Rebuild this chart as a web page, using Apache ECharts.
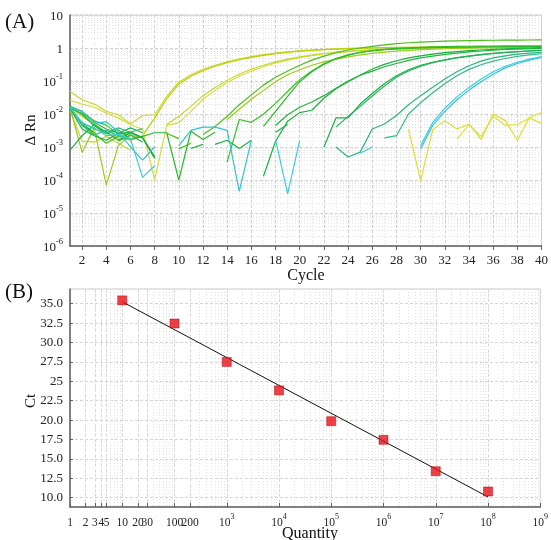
<!DOCTYPE html>
<html>
<head>
<meta charset="utf-8">
<script src="https://cdn.jsdelivr.net/npm/echarts@6/dist/echarts.min.js"></script>
<style>
html,body{margin:0;padding:0;background:#fff;}
#chart{width:551px;height:540px;}
</style>
</head>
<body>
<div id="chart"></div>
<script>
// ---- (A) amplification plot: delta Rn per cycle, two replicates per standard ----
const cycles = [1,2,3,4,5,6,7,8,9,10,11,12,13,14,15,16,17,18,19,20,
                21,22,23,24,25,26,27,28,29,30,31,32,33,34,35,36,37,38,39,40];

const std1e8a = [0.048,0.027,0.02,0.012,0.0095,0.005,0.009,0.0095,0.034,0.092,
  0.155,0.225,0.3,0.38,0.47,0.55,0.63,0.7,0.77,0.82,
  0.87,0.91,0.94,0.97,0.99,1.01,1.03,1.04,1.05,1.06,
  1.07,1.08,1.08,1.09,1.09,1.1,1.1,1.1,1.11,1.11];
const std1e8b = [0.016,0.0085,0.0048,0.0027,0.0019,0.0016,0.0022,0.0075,0.029,0.08,
  0.14,0.205,0.28,0.36,0.44,0.52,0.6,0.67,0.74,0.8,
  0.85,0.89,0.93,0.96,0.98,1.0,1.02,1.03,1.04,1.05,
  1.06,1.06,1.07,1.07,1.08,1.08,1.08,1.09,1.09,1.09];
const std1e7a = [0.026,0.02,0.016,0.0105,0.0075,0.0048,0.0034,0.0001,0.0045,0.0055,
  0.012,0.028,0.052,0.09,0.14,0.2,0.27,0.35,0.43,0.51,
  0.59,0.66,0.72,0.78,0.83,0.87,0.91,0.94,0.97,0.99,
  1.01,1.03,1.04,1.05,1.06,1.07,1.08,1.08,1.09,1.09];
const std1e7b = [0.013,0.0015,0.0014,0.0021,0.0013,0.0008,null,null,0.0048,0.0085,
  0.017,0.036,0.064,0.105,0.16,0.23,0.3,0.38,0.46,0.54,
  0.61,0.68,0.74,0.79,0.84,0.88,0.91,0.94,0.96,0.98,
  1.0,1.01,1.02,1.03,1.04,1.05,1.05,1.06,1.06,1.07];
const std1e6a = [0.016,0.0047,0.0026,0.0013,0.0021,0.0026,null,null,0.0026,0.0018,
  null,0.0024,0.0042,0.0085,0.019,0.038,0.075,0.13,0.2,0.3,
  0.43,0.57,0.72,0.87,1.0,1.12,1.24,1.35,1.44,1.51,
  1.57,1.61,1.65,1.68,1.7,1.72,1.73,1.74,1.75,1.76];
const std1e6b = [0.016,0.00068,0.0038,0.00007,0.0011,0.0023,0.0019,null,null,null,
  null,null,null,0.0068,0.014,0.028,0.052,0.095,0.155,0.22,
  0.3,0.38,0.46,0.54,0.62,0.69,0.75,0.8,0.85,0.89,
  0.92,0.95,0.97,0.99,1.0,1.01,1.02,1.03,1.04,1.05];
const std1e5a = [0.017,0.012,0.0062,0.0046,0.0024,0.0029,0.0019,0.0005,null,0.00088,
  0.0013,null,null,0.00035,0.0068,0.0056,0.0098,0.021,0.048,0.11,
  0.2,0.33,0.48,0.62,0.74,0.84,0.91,0.97,1.01,1.05,
  1.08,1.1,1.12,1.13,1.14,1.15,1.16,1.16,1.17,1.17];
const std1e5b = [0.016,0.0098,0.0044,0.0025,0.0033,0.0017,0.0021,0.0027,0.0027,0.0001,
  0.003,0.0017,0.0028,null,null,null,0.0042,0.012,0.034,0.095,
  0.19,0.32,0.47,0.61,0.73,0.82,0.89,0.94,0.98,1.01,
  1.03,1.05,1.06,1.07,1.08,1.09,1.1,1.1,1.11,1.11];
const std1e4a = [0.015,0.0035,0.0022,0.0016,0.0026,0.0027,0.0019,0.0005,null,null,
  0.0009,0.0012,null,null,null,null,0.00013,0.0015,0.006,0.011,
  0.013,0.03,0.058,0.095,0.15,0.23,0.32,0.41,0.5,0.58,
  0.65,0.72,0.78,0.83,0.87,0.91,0.94,0.97,0.99,1.01];
const std1e4b = [0.014,0.0052,0.0027,null,0.0015,0.0023,0.0014,null,null,null,
  null,null,null,null,0.0009,0.0016,null,0.0045,0.0095,0.016,
  0.023,0.036,0.06,0.1,0.15,0.2,0.27,0.34,0.42,0.5,
  0.57,0.64,0.7,0.76,0.81,0.86,0.9,0.93,0.96,0.98];
const std1e3a = [0.0008,0.0022,0.0048,0.0028,0.0016,0.0027,0.0019,0.00045,null,null,
  null,null,0.0012,0.0016,0.0009,null,null,null,null,null,
  null,0.001,0.0076,0.0076,0.02,0.042,0.082,0.145,0.22,0.3,
  0.37,0.44,0.51,0.57,0.63,0.68,0.73,0.77,0.81,0.84];
const std1e3b = [0.015,0.0105,0.0055,0.0035,0.0026,0.0038,0.0027,null,null,null,
  null,null,null,null,null,null,null,0.0028,0.0048,null,
  null,null,0.004,0.0085,0.017,0.035,0.07,0.13,0.2,0.28,
  0.36,0.43,0.5,0.57,0.63,0.69,0.74,0.78,0.82,0.86];
const std100a = [0.016,0.0045,0.0023,0.0032,0.0022,0.0017,null,null,null,null,
  null,null,null,null,null,null,null,null,null,null,
  null,null,0.001,0.0005,0.0007,0.0035,0.005,0.009,0.019,0.036,
  0.065,0.115,0.19,0.29,0.4,0.5,0.58,0.65,0.7,0.74];
const std100b = [0.016,0.0055,0.0035,0.0027,0.0038,0.0028,0.0036,null,null,null,
  null,null,null,null,null,null,null,null,null,null,
  null,null,null,null,null,null,0.0019,0.0022,0.01,0.022,
  0.044,0.083,0.145,0.225,0.31,0.4,0.48,0.56,0.62,0.67];
const std10a = [0.016,0.012,0.0052,0.0058,0.0029,0.001,0.0004,0.001,null,0.0011,
  0.0032,0.004,0.004,0.0032,0.000045,0.0016,null,null,null,null,
  null,null,null,null,null,null,null,null,null,0.00087,
  0.0045,0.012,0.027,0.053,0.095,0.16,0.25,0.34,0.43,0.52];
const std10b = [0.016,0.0052,0.0038,0.0022,0.0024,0.0018,0.00012,0.00027,null,null,
  null,null,null,null,null,null,null,0.0017,0.000038,0.0016,
  null,null,null,null,0.00065,0.001,null,null,null,0.0011,
  0.0055,0.015,0.033,0.064,0.115,0.19,0.28,0.37,0.46,0.55];
const ntcA = [null,null,null,null,null,null,null,null,null,null,
  null,null,null,null,null,null,null,null,null,null,
  null,null,null,null,null,null,null,null,0.0035,0.000095,
  0.0033,0.0063,0.0035,0.005,0.0017,0.01,0.0063,0.0016,0.008,0.011];
const ntcB = [null,null,null,null,null,null,null,null,null,null,
  null,null,null,null,null,null,null,null,null,null,
  null,null,null,null,null,null,null,null,null,null,
  null,null,0.0017,0.0048,0.0021,0.0085,0.0045,0.0048,0.0075,0.0052];

const cycleTicks = [2,4,6,8,10,12,14,16,18,20,22,24,26,28,30,32,34,36,38,40];

// ---- (B) standard curve ----
const quantities = [10,100,1000,10000,100000,1000000,10000000,100000000];
const ctValues   = [35.43,32.45,27.5,23.83,19.86,17.46,13.41,10.8];
const fitLine    = [[10,35.25],[100000000,10.1]];   // regression line end points
const quantityTicks = [1,2,3,4,5,10,20,30,100,200,1e3,1e4,1e5,1e6,1e7,1e8,1e9];
const ctTicks = [10,12.5,15,17.5,20,22.5,25,27.5,30,32.5,35];

// ---- styling ----
const serif = '"Liberation Serif","Times New Roman",serif';
const curves = [
  [std1e8a,'#cdd62c'],[std1e8b,'#b8d000'],
  [std1e7a,'#d8dc42'],[std1e7b,'#c2d82c'],
  [std1e6a,'#4cbe1c'],[std1e6b,'#9ccc18'],
  [std1e5a,'#3cbe22'],[std1e5b,'#2cb92c'],
  [std1e4a,'#18b236'],[std1e4b,'#22b440'],
  [std1e3a,'#1aae4a'],[std1e3b,'#22b25a'],
  [std100a,'#2ab67e'],[std100b,'#34ba8c'],
  [std10a,'#2ec4d6'],[std10b,'#3ccbe0'],
  [ntcA,'#dede30'],[ntcB,'#e2e03a']
];

const lg = v => Math.log10(v);
const oddCycles = [];
for (let c = 1; c < 40; c += 2) oddCycles.push(c);
const yMinor = [];
for (let e = -6; e <= 0; e++) for (let k = 2; k <= 9; k++) yMinor.push(lg(k * Math.pow(10, e)));
const qMinor = [];
for (let e = 0; e <= 8; e++) for (let k = 1; k <= 9; k++) qMinor.push(lg(k * Math.pow(10, e)));
qMinor.push(9);

const richA = {
  b: {fontFamily: serif, fontSize: 13, color: '#222', verticalAlign: 'bottom', lineHeight: 17},
  s: {fontFamily: serif, fontSize: 8.5, color: '#222', verticalAlign: 'top', lineHeight: 17}
};
const richB = {
  b: {fontFamily: serif, fontSize: 11.5, color: '#222', verticalAlign: 'bottom', lineHeight: 16},
  s: {fontFamily: serif, fontSize: 8, color: '#222', verticalAlign: 'top', lineHeight: 16}
};

const gridBorder = '#c9c9c9';
const axisDark = '#606060';

const chart = echarts.init(document.getElementById('chart'), null, {renderer: 'canvas'});

const series = curves.map(([vals, color]) => ({
  type: 'line', xAxisIndex: 0, yAxisIndex: 0,
  data: vals.map((v, i) => [cycles[i], v == null ? '-' : lg(v)]),
  showSymbol: false, symbol: 'none', connectNulls: false,
  lineStyle: {color: color, width: 1.2}, itemStyle: {color: color},
  silent: true, animation: false
}));

series.push({
  type: 'line', xAxisIndex: 2, yAxisIndex: 2,
  data: fitLine.map(p => [lg(p[0]), p[1]]),
  symbol: 'none', lineStyle: {color: '#111', width: 1}, silent: true, animation: false, z: 3
});
series.push({
  type: 'scatter', xAxisIndex: 2, yAxisIndex: 2,
  data: quantities.map((q, i) => [lg(q), ctValues[i]]),
  symbol: 'rect', symbolSize: 9,
  itemStyle: {color: '#e8101a', borderColor: '#b80000', borderWidth: 0.6},
  silent: true, animation: false, z: 4
});

chart.setOption({
  backgroundColor: '#fff',
  animation: false,
  grid: [
    {left: 70, top: 15, width: 474, height: 231, show: true, borderColor: gridBorder, borderWidth: 1},
    {left: 70, top: 289, width: 474, height: 218, show: true, borderColor: gridBorder, borderWidth: 1}
  ],
  xAxis: [
    { // cycles
      gridIndex: 0, type: 'value', min: 1, max: 40, position: 'bottom',
      axisLine: {show: true, onZero: false, lineStyle: {color: axisDark, width: 1.5}},
      axisTick: {show: true, inside: false, length: 4, customValues: cycleTicks, lineStyle: {color: axisDark}},
      axisLabel: {show: true, customValues: cycleTicks, margin: 8, fontFamily: serif, fontSize: 13, color: '#222'},
      splitLine: {show: true, lineStyle: {color: '#d2d2d2', type: [3, 2], width: 1}}
    },
    { // odd-cycle grid lines
      gridIndex: 0, type: 'value', min: 1, max: 40, position: 'top',
      axisLine: {show: false}, axisLabel: {show: false},
      axisTick: {show: false, customValues: oddCycles},
      splitLine: {show: true, lineStyle: {color: '#e6e6e6', type: [1, 2], width: 1}}
    },
    { // quantity (log10)
      gridIndex: 1, type: 'value', min: 0, max: 9, position: 'bottom',
      axisLine: {show: true, onZero: false, lineStyle: {color: axisDark, width: 1.5}},
      axisTick: {show: true, inside: true, length: 4, customValues: quantityTicks.map(lg), lineStyle: {color: axisDark}},
      axisLabel: {
        show: true, customValues: quantityTicks.map(lg), margin: 6, rich: richB, hideOverlap: false,
        formatter: v => {
          const q = Math.round(Math.pow(10, v));
          return q < 1000 ? '{b|' + q + '}' : '{b|10}{s|' + Math.round(v) + '}';
        }
      },
      splitLine: {show: true, lineStyle: {color: '#d6d6d6', type: [3, 2], width: 1}}
    },
    { // quantity grid lines at every k·10^n
      gridIndex: 1, type: 'value', min: 0, max: 9, position: 'top',
      axisLine: {show: false}, axisLabel: {show: false},
      axisTick: {show: false, customValues: qMinor},
      splitLine: {show: true, lineStyle: {color: '#e2e2e2', type: [1, 2], width: 1}}
    }
  ],
  yAxis: [
    { // delta Rn (log10)
      gridIndex: 0, type: 'value', min: -6, max: 1, interval: 1, position: 'left',
      axisLine: {show: true, onZero: false, lineStyle: {color: axisDark, width: 1.5}},
      axisTick: {show: false},
      axisLabel: {
        show: true, margin: 7, rich: richA,
        formatter: v => v === 1 ? '{b|10}' : (v === 0 ? '{b|1}' : '{b|10}{s|' + v + '}')
      },
      splitLine: {show: true, lineStyle: {color: '#d2d2d2', type: [3, 2], width: 1}}
    },
    { // minor log grid lines
      gridIndex: 0, type: 'value', min: -6, max: 1, position: 'right',
      axisLine: {show: false}, axisLabel: {show: false},
      axisTick: {show: false, customValues: yMinor},
      splitLine: {show: true, lineStyle: {color: '#e2e2e2', type: [1, 2], width: 1}}
    },
    { // Ct
      gridIndex: 1, type: 'value', min: 8.8, max: 36.9, position: 'left',
      axisLine: {show: true, onZero: false, lineStyle: {color: axisDark, width: 1.5}},
      axisTick: {show: true, inside: true, length: 3, customValues: ctTicks, lineStyle: {color: axisDark}},
      axisLabel: {
        show: true, customValues: ctTicks, margin: 7, fontFamily: serif, fontSize: 13, color: '#222',
        formatter: v => v === 25 ? '25' : v.toFixed(1)
      },
      splitLine: {show: true, lineStyle: {color: '#d6d6d6', type: [3, 2], width: 1}}
    }
  ],
  graphic: [
    {type: 'text', x: 5, y: 22, silent: true,
      style: {text: '(A)', font: '21px ' + serif, fill: '#111', align: 'left', verticalAlign: 'middle'}},
    {type: 'text', x: 5, y: 292, silent: true,
      style: {text: '(B)', font: '21px ' + serif, fill: '#111', align: 'left', verticalAlign: 'middle'}},
    {type: 'text', x: 31, y: 130, rotation: Math.PI / 2, silent: true,
      style: {text: 'Δ Rn', font: '15px ' + serif, fill: '#111', align: 'center', verticalAlign: 'middle'}},
    {type: 'text', x: 306, y: 276, silent: true,
      style: {text: 'Cycle', font: '16px ' + serif, fill: '#111', align: 'center', verticalAlign: 'middle'}},
    {type: 'text', x: 31, y: 401, rotation: Math.PI / 2, silent: true,
      style: {text: 'Ct', font: '15px ' + serif, fill: '#111', align: 'center', verticalAlign: 'middle'}},
    {type: 'text', x: 310, y: 534, silent: true,
      style: {text: 'Quantity', font: '16px ' + serif, fill: '#111', align: 'center', verticalAlign: 'middle'}}
  ],
  series: series
});
</script>
</body>
</html>
